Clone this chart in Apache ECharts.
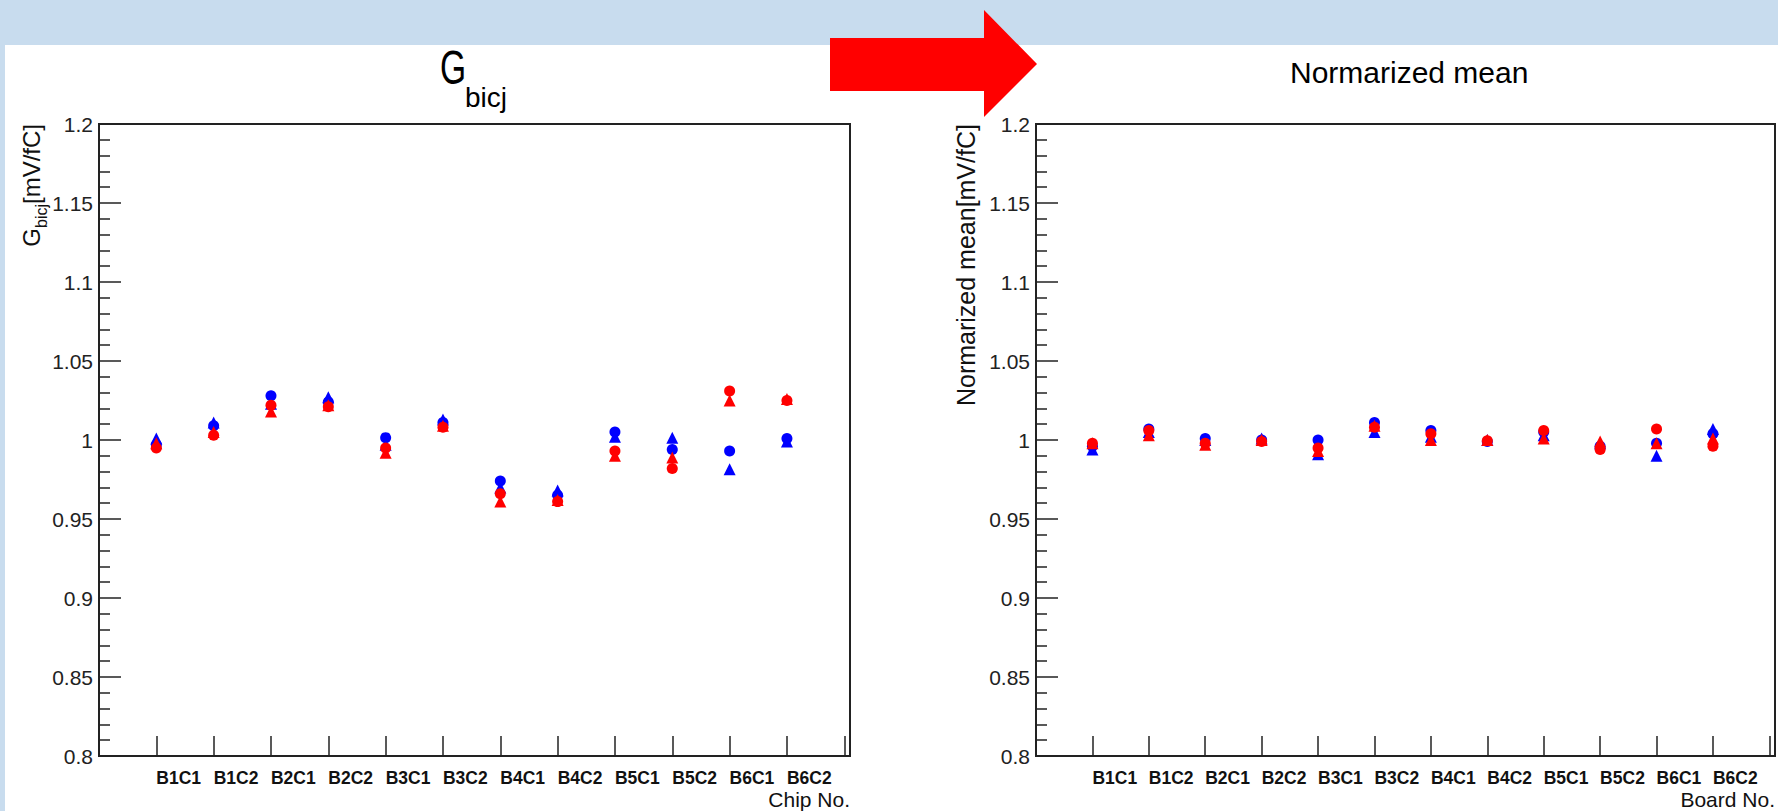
<!DOCTYPE html>
<html>
<head>
<meta charset="utf-8">
<script src="https://cdn.jsdelivr.net/npm/echarts@6/dist/echarts.min.js"></script>
<style>
html,body{margin:0;padding:0;background:#fff;}
#chart{width:1778px;height:811px;}
</style>
</head>
<body>
<div id="chart"></div>
<script>
// ---- data ----
const chips = ['B1C1','B1C2','B2C1','B2C2','B3C1','B3C2','B4C1','B4C2','B5C1','B5C2','B6C1','B6C2'];
const yTickLabels = ['0.8','0.85','0.9','0.95','1','1.05','1.1','1.15','1.2'];

// Left panel: G_bicj [mV/fC]
const gBlueCircle = [0.997, 1.009, 1.028, 1.024, 1.0015, 1.011, 0.974, 0.965, 1.005, 0.994, 0.993, 1.001];
const gBlueTri    = [1.001, 1.011, 1.023, 1.027, 0.997, 1.013, 0.970, 0.968, 1.002, 1.0015, 0.9815, 0.999];
const gRedCircle  = [0.995, 1.003, 1.022, 1.021, 0.995, 1.008, 0.966, 0.961, 0.993, 0.982, 1.031, 1.025];
const gRedTri     = [0.998, 1.005, 1.018, 1.022, 0.992, 1.009, 0.961, 0.962, 0.990, 0.989, 1.025, 1.026];

// Right panel: normalized mean [mV/fC]
const nBlueCircle = [0.996, 1.007, 1.001, 1.000, 1.000, 1.011, 1.006, 0.999, 1.005, 0.996, 0.998, 1.004];
const nBlueTri    = [0.994, 1.005, 1.000, 1.001, 0.991, 1.005, 1.002, 1.000, 1.003, 0.998, 0.990, 1.007];
const nRedCircle  = [0.998, 1.006, 0.998, 0.999, 0.995, 1.008, 1.004, 0.9995, 1.006, 0.994, 1.007, 0.996];
const nRedTri     = [0.998, 1.003, 0.997, 1.000, 0.993, 1.009, 1.000, 1.000, 1.001, 0.999, 0.998, 1.001];

// ---- chart ----
const FONT = "'Liberation Sans', Arial, sans-serif";
const AX = '#222';
const chart = echarts.init(document.getElementById('chart'), null, {renderer: 'svg'});

function toPts(arr){ return arr.map((v,i)=>[i+1, v]); }

function xAxisCfg(gridIndex, name){
  return {
    type: 'value', gridIndex, min: 0, max: 13.1, interval: 1,
    name: name, nameLocation: 'end', nameGap: 0,
    nameTextStyle: {fontFamily: FONT, fontSize: 21, color: '#111', align: 'right', verticalAlign: 'top', padding: [33,0,0,0]},
    axisLine: {show: true, onZero: false, lineStyle: {color: AX, width: 2}},
    axisTick: {show: true, inside: true, length: 20, lineStyle: {color: AX, width: 1.5}},
    minorTick: {show: false},
    splitLine: {show: false},
    axisLabel: {
      fontFamily: FONT, fontSize: 17.5, fontWeight: 'bold', color: '#111',
      align: 'left', margin: 13, showMinLabel: true, showMaxLabel: true,
      formatter: function(v){ const k = Math.round(v); return (Math.abs(v-k) < 1e-6 && k >= 1 && k <= chips.length) ? chips[k-1] : ''; }
    }
  };
}

function yAxisCfg(gridIndex, name, fontSize, rich, pad){
  return {
    type: 'value', gridIndex, min: 0.8, max: 1.2, interval: 0.05,
    name: name, nameLocation: 'end', nameGap: 0, nameRotate: 90,
    nameTextStyle: Object.assign({fontFamily: FONT, fontSize: fontSize, color: '#111', align: 'right', verticalAlign: 'bottom', padding: [0,0,pad,0]}, rich ? {rich: rich} : {}),
    axisLine: {show: true, onZero: false, lineStyle: {color: AX, width: 2}},
    axisTick: {show: true, inside: true, length: 22, lineStyle: {color: AX, width: 1.5}},
    minorTick: {show: true, splitNumber: 5, length: 11, lineStyle: {color: AX, width: 1.5}},
    splitLine: {show: false},
    axisLabel: {
      fontFamily: FONT, fontSize: 21, color: '#222', margin: 6,
      formatter: function(v){ const s = String(Math.round(v*100)/100); return yTickLabels.indexOf(s) >= 0 ? s : ''; }
    }
  };
}

function sc(xi, yi, data, color, symbol, size){
  return {
    type: 'scatter', xAxisIndex: xi, yAxisIndex: yi, data: toPts(data),
    symbol: symbol, symbolSize: size, itemStyle: {color: color, opacity: 1},
    emphasis: {disabled: true}, animation: false
  };
}

const richY = {
  g: {fontFamily: FONT, fontSize: 24, lineHeight: 24, verticalAlign: 'top', color: '#111'},
  s: {fontFamily: FONT, fontSize: 16, lineHeight: 16, verticalAlign: 'top', padding: [14,0,0,0], color: '#111'}
};

const option = {
  backgroundColor: '#ffffff',
  animation: false,
  title: [
    {
      text: 'Normarized mean', left: 1285, top: 52.5,
      textStyle: {fontFamily: FONT, fontSize: 30, lineHeight: 30, fontWeight: 'normal', color: '#000'}
    }
  ],
  grid: [
    {left: 99, top: 124, width: 751, height: 632, show: true, borderColor: AX, borderWidth: 2, backgroundColor: '#fff'},
    {left: 1036, top: 124, width: 741, height: 632, show: true, borderColor: AX, borderWidth: 2, backgroundColor: '#fff'}
  ],
  xAxis: [xAxisCfg(0, 'Chip No.'), xAxisCfg(1, 'Board No.')],
  yAxis: [
    yAxisCfg(0, '{g|G}{s|bicj}{g|[mV/fC]}', 24, richY, 56),
    yAxisCfg(1, 'Normarized mean[mV/fC]', 25, null, 58)
  ],
  graphic: [
    {type: 'rect', shape: {x: 0, y: 0, width: 1778, height: 45}, style: {fill: '#c8dcee'}, z: -10, silent: true},
    {type: 'rect', shape: {x: 0, y: 0, width: 5, height: 811}, style: {fill: '#c8dcee'}, z: -10, silent: true},
    {type: 'polygon', shape: {points: [[830,38],[984,38],[984,10],[1037,64],[984,117],[984,91],[830,91]]}, style: {fill: '#ff0000'}, z: 100, silent: true},
    // panel title G_bicj (G drawn narrow as in the original TLatex)
    {type: 'text', x: 440, y: 67.5, scaleX: 0.7, silent: true,
     style: {text: 'G', fontFamily: FONT, fontSize: 48, fontWeight: 'normal', fill: '#000', align: 'left', verticalAlign: 'middle'}},
    {type: 'text', x: 465, y: 97, silent: true,
     style: {text: 'bicj', fontFamily: FONT, fontSize: 28, fontWeight: 'normal', fill: '#000', align: 'left', verticalAlign: 'middle'}}
  ],
  series: [
    sc(0, 0, gBlueTri, '#0000ff', 'triangle', 12),
    sc(0, 0, gBlueCircle, '#0000ff', 'circle', 11),
    sc(0, 0, gRedTri, '#ff0000', 'triangle', 12),
    sc(0, 0, gRedCircle, '#ff0000', 'circle', 11),
    sc(1, 1, nBlueTri, '#0000ff', 'triangle', 12),
    sc(1, 1, nBlueCircle, '#0000ff', 'circle', 11),
    sc(1, 1, nRedTri, '#ff0000', 'triangle', 12),
    sc(1, 1, nRedCircle, '#ff0000', 'circle', 11)
  ]
};
chart.setOption(option);
</script>
</body>
</html>
